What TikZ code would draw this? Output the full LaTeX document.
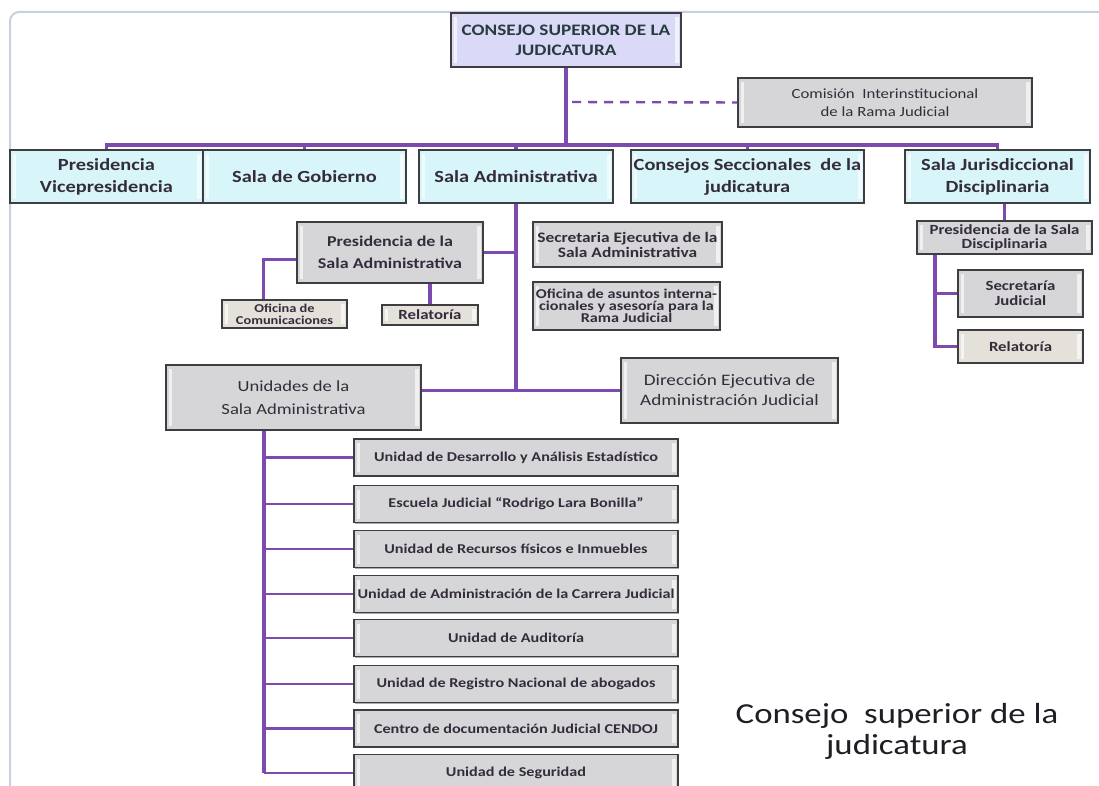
\documentclass[tikz,border=0pt]{standalone}
\usepackage{fontspec}
\setmainfont{Carlito}[FakeStretch=1.2]
\usetikzlibrary{shadows}
\definecolor{lnc}{RGB}{125,75,175}
\definecolor{boxgray}{RGB}{214,214,216}
\definecolor{boxcyan}{RGB}{216,245,250}
\definecolor{boxlav}{RGB}{218,218,248}
\definecolor{boxbeige}{RGB}{228,224,218}
\definecolor{bordc}{RGB}{62,62,66}
\definecolor{txtc}{RGB}{52,44,58}
\definecolor{topt}{RGB}{40,60,64}
\definecolor{framec}{RGB}{200,208,222}
\definecolor{capc}{RGB}{30,30,36}
\newcommand{\fsz}[2]{\fontsize{#1}{#2}\selectfont}
\tikzset{
  boxbase/.style={draw=bordc, line width=1.4pt, text=txtc, align=center, inner sep=0pt,
    drop shadow={shadow xshift=1.2pt, shadow yshift=-1.2pt, fill=black!60, opacity=0.55},
    path picture={
      \fill[white,opacity=0.65] ([shift={(2.5pt,-4pt)}]path picture bounding box.north west) rectangle ([shift={(6pt,4pt)}]path picture bounding box.south west);
      \fill[white,opacity=0.65] ([shift={(-6pt,-4pt)}]path picture bounding box.north east) rectangle ([shift={(-2.5pt,4pt)}]path picture bounding box.south east);
    }},
  gbox/.style={boxbase, fill=boxgray},
  cbox/.style={boxbase, fill=boxcyan},
  lbox/.style={boxbase, fill=boxlav},
  bbox/.style={boxbase, fill=boxbeige},
  conn/.style={draw=lnc, line width=3.2pt},
  branch/.style={draw=lnc, line width=2.4pt},
  dashconn/.style={draw=lnc, line width=2.4pt, dash pattern=on 9pt off 7pt},
}
\begin{document}
\begin{tikzpicture}[x=1pt,y=-1pt]
\useasboundingbox (0,0) rectangle (1099,786);
\fill[white] (0,0) rectangle (1099,786);
\draw[framec, line width=2pt, rounded corners=9pt] (10,786) -- (10,12) -- (1099,12);

% top
\node[lbox, minimum width=230pt, minimum height=54pt, font=\fsz{16}{20}\bfseries, text=topt] (top) at (566,40) {CONSEJO SUPERIOR DE LA\\JUDICATURA};
\node[gbox, minimum width=294pt, minimum height=49pt, font=\fsz{14}{18}] (com) at (885,102.5) {Comisión\ \ Interinstitucional\\de la Rama Judicial};

% level 1
\node[cbox, minimum width=193pt, minimum height=53pt, font=\fsz{17}{22}\bfseries] (pres) at (106.5,176.5) {Presidencia\\Vicepresidencia};
\node[cbox, minimum width=203pt, minimum height=53pt, font=\fsz{17}{22}\bfseries] (gob) at (304.5,176.5) {Sala de Gobierno};
\node[cbox, minimum width=194pt, minimum height=53pt, font=\fsz{17}{22}\bfseries] (sadm) at (516,176.5) {Sala Administrativa};
\node[cbox, minimum width=233pt, minimum height=53pt, font=\fsz{17}{22}\bfseries] (cons) at (747.5,176.5) {Consejos Seccionales\ \ de la\\judicatura};
\node[cbox, minimum width=185pt, minimum height=53pt, font=\fsz{17}{22}\bfseries] (sjur) at (997.5,176.5) {Sala Jurisdiccional\\Disciplinaria};

\coordinate (by) at (0,145);
\coordinate (dsh) at (572,102);
\draw[conn] (top.south) -- (top.south |- by);
\draw[conn] (pres.north) -- (pres.north |- by) -- (sjur.north |- by) -- (sjur.north);
\draw[conn] (gob.north) -- (gob.north |- by);
\draw[conn] (sadm.north) -- (sadm.north |- by);
\draw[conn] (cons.north) -- (cons.north |- by);
\draw[dashconn] (dsh) -- (com.west);

% Sala administrativa branch
\node[gbox, minimum width=186pt, minimum height=61pt, font=\fsz{15}{22}\bfseries] (psadm) at (390,252.5) {Presidencia de la\\Sala Administrativa};
\node[bbox, minimum width=125pt, minimum height=28pt, font=\fsz{12}{12}\bfseries] (ofcom) at (284.5,314) {Oficina de\\Comunicaciones};
\node[bbox, minimum width=96pt, minimum height=20pt, font=\fsz{14}{14}\bfseries] (rel1) at (430,315) {Relatoría};
\node[gbox, minimum width=189pt, minimum height=45pt, font=\fsz{14.5}{15}\bfseries] (secej) at (627.5,244.5) {Secretaria Ejecutiva de la\\Sala Administrativa};
\node[gbox, minimum width=187pt, minimum height=48pt, font=\fsz{13.5}{11.5}\bfseries] (ofint) at (626.5,306) {Oficina de asuntos interna-\\cionales y asesoría para la\\Rama Judicial};
\node[gbox, minimum width=255pt, minimum height=65pt, font=\fsz{15.5}{23}] (unid) at (293.5,397.5) {Unidades de la\\Sala Administrativa};
\node[gbox, minimum width=217pt, minimum height=65pt, font=\fsz{16}{20}] (dir) at (729.5,390.5) {Dirección Ejecutiva de\\Administración Judicial};

\draw[conn] (sadm.south) -- (sadm.south |- dir.west);
\draw[conn] (dir.west) -- (dir.west -| unid.east);
\draw[conn] (psadm.east) -- (psadm.east -| sadm.south);
\draw[conn] ([yshift=-7pt]psadm.west) -| ([xshift=-21pt]ofcom.north);
\draw[conn] (rel1.north) -- (rel1.north |- psadm.south);

% unidades list
\foreach \i/\yy/\tt in {
  1/457.5/{Unidad de Desarrollo y Análisis Estadístico},
  2/504/{Escuela Judicial “Rodrigo Lara Bonilla”},
  3/549/{Unidad de Recursos físicos e Inmuebles},
  4/594/{Unidad de Administración de la Carrera Judicial},
  5/638/{Unidad de Auditoría},
  6/684/{Unidad de Registro Nacional de abogados},
  7/728.5/{Centro de documentación Judicial CENDOJ},
  8/773/{Unidad de Seguridad}}{
  \node[gbox, minimum width=324pt, minimum height=37pt, font=\fsz{13.5}{15}\bfseries] (u\i) at (516,\yy) {\tt};
}
\coordinate (vx) at (264,0);
\draw[conn] (unid.south -| vx) -- (vx |- u8.west);
\foreach \i in {1,...,8}{\draw[branch] (vx |- u\i.west) -- (u\i.west);}

% Sala jurisdiccional branch
\node[gbox, minimum width=175pt, minimum height=33pt, font=\fsz{14}{13.5}\bfseries] (pjur) at (1004.5,237.5) {Presidencia de la Sala\\Disciplinaria};
\node[gbox, minimum width=125pt, minimum height=47pt, font=\fsz{14}{15}\bfseries] (sec) at (1020.5,293.5) {Secretaría\\Judicial};
\node[bbox, minimum width=125pt, minimum height=33pt, font=\fsz{14}{15}\bfseries] (rel2) at (1020.5,346.5) {Relatoría};
\draw[conn] (pjur.north) -- (pjur.north |- sjur.south);
\coordinate (vx2) at (935,0);
\draw[conn] (pjur.south -| vx2) |- (rel2.west);
\draw[conn] (vx2 |- sec.west) -- (sec.west);

% caption
\node[font=\fsz{29}{31}, text=capc, align=center] (cap) at (897,731) {Consejo\ \ superior de la\\judicatura};
\end{tikzpicture}
\end{document}
